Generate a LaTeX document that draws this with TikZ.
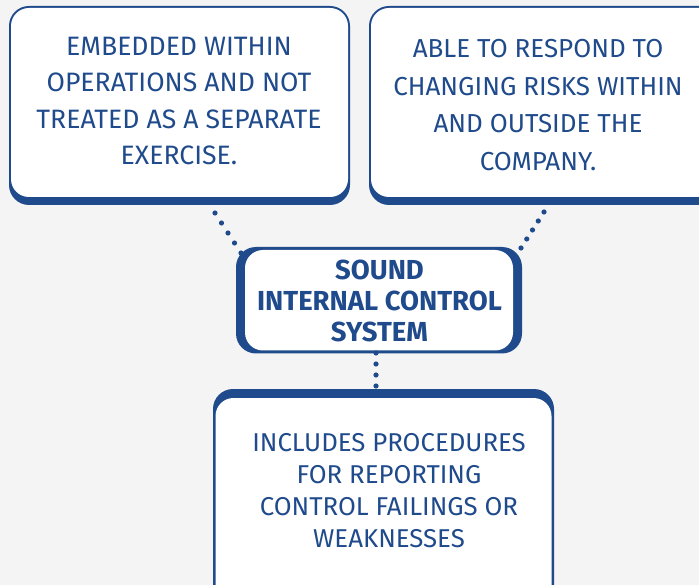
\documentclass[tikz,border=0pt]{standalone}
\usepackage{fontspec}
\setmainfont{Fira Sans}
\usetikzlibrary{calc}
\definecolor{cblue}{HTML}{1F4A8B}
\definecolor{cbg}{HTML}{F4F4F4}
\tikzset{
  shadowbox/.style={fill=cblue, rounded corners=20pt},
  whitebox/.style={fill=white, rounded corners=18pt},
  boxtext/.style={text=cblue, align=center, inner sep=0pt, font=\fontsize{26}{36.5}\selectfont},
  dotlink/.style={fill=cblue}
}
\newcommand{\dotline}[3]{%
  \foreach \t in {0,...,#3}{\fill[dotlink] ($(#1)!{\t/#3}!(#2)$) circle (2.6pt);}}
\begin{document}
\begin{tikzpicture}[x=1pt,y=-1pt]
\fill[cbg] (0,0) rectangle (699,585);
\useasboundingbox (0,0) rectangle (699,585);
% box 1
\fill[shadowbox] (9,6) rectangle (350,205);
\fill[whitebox] (11,8) rectangle (348,197);
\node[boxtext, font=\fontsize{26.6}{36.5}\selectfont] (b1) at (179,101) {EMBEDDED WITHIN\\OPERATIONS AND NOT\\TREATED AS A SEPARATE\\EXERCISE.};
% box 2
\fill[shadowbox] (369,6) rectangle (720,205);
\fill[whitebox] (371,8) rectangle (718,197);
\node[boxtext, font=\fontsize{26}{37.7}\selectfont] (b2) at (538,105) {ABLE TO RESPOND TO\\CHANGING RISKS WITHIN\\AND OUTSIDE THE\\COMPANY.};
% center
\fill[shadowbox] (236,247) rectangle (522,353.5);
\fill[whitebox] (245,250) rectangle (513,350.5);
\node[boxtext, font=\fontsize{27.5}{31}\selectfont\bfseries] (c) at (379.5,301) {SOUND\\INTERNAL CONTROL\\SYSTEM};
% bottom
\fill[shadowbox] (213,389) rectangle (554,620);
\fill[whitebox] (215.5,398) rectangle (551.5,620);
\node[boxtext, font=\fontsize{25.8}{32}\selectfont] (b3) at (389,491) {INCLUDES PROCEDURES\\FOR REPORTING\\CONTROL FAILINGS OR\\WEAKNESSES};
% connectors
\coordinate (l1) at (215,213); \coordinate (l2) at (241,253);
\coordinate (r1) at (544,212); \coordinate (r2) at (521,248);
\coordinate (v1) at (376,353); \coordinate (v2) at (376,386);
\dotline{l1}{l2}{4}
\dotline{r1}{r2}{4}
\dotline{v1}{v2}{3}
\end{tikzpicture}
\end{document}
